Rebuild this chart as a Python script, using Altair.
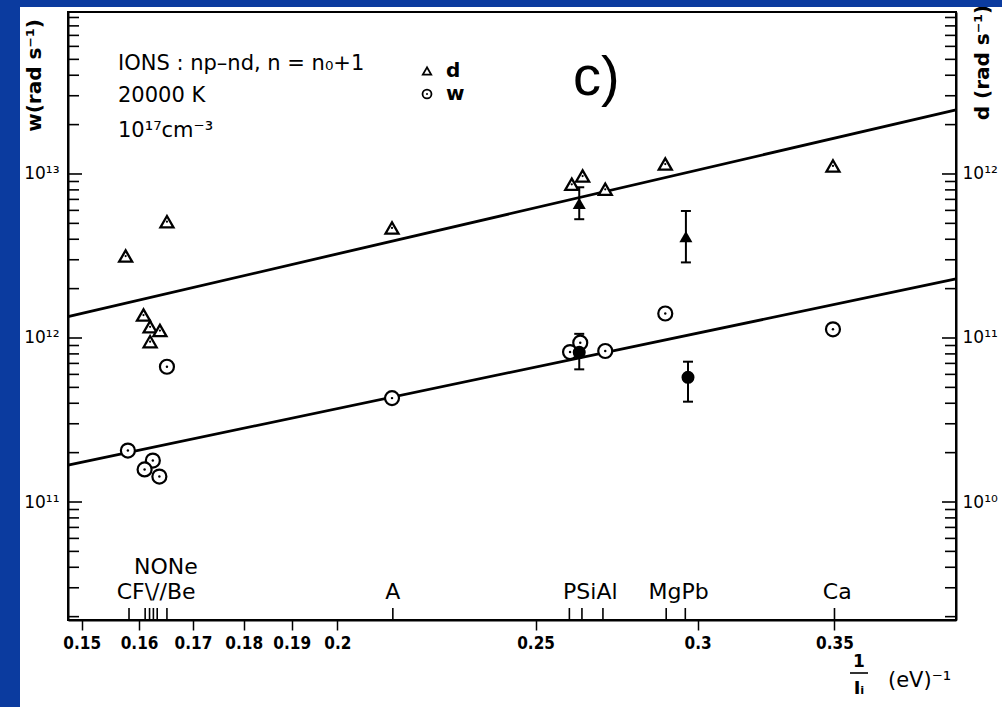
import altair as alt
import pandas as pd

# ---------------- data ----------------
# open triangles: d values (right axis), x = 1/I_i in (eV)^-1
tri_x = [0.1576, 0.1651, 0.1608, 0.1620, 0.1638, 0.1620, 0.2127, 0.2604, 0.2636, 0.2704, 0.2893, 0.3494]
tri_d = [3.16e11, 5.12e11, 1.38e11, 1.17e11, 1.11e11, 9.5e10, 4.69e11, 8.65e11, 9.72e11, 8.07e11, 1.15e12, 1.12e12]

# open circles: w values (left axis)
circ_x = [0.1580, 0.1651, 0.1625, 0.1610, 0.1637, 0.2127, 0.2599, 0.2629, 0.2704, 0.2893, 0.3494]
circ_w = [2.06e11, 6.68e11, 1.79e11, 1.58e11, 1.43e11, 4.30e11, 8.21e11, 9.36e11, 8.33e11, 1.41e12, 1.13e12]

# measured values with error bars (filled symbols)
meas_d_x = [0.2626, 0.2961]
meas_d = [6.62e11, 4.15e11]
meas_d_hi = [8.30e11, 5.95e11]
meas_d_lo = [5.30e11, 2.89e11]

meas_w_x = [0.2626, 0.2968]
meas_w = [8.18e11, 5.76e11]
meas_w_hi = [1.06e12, 7.17e11]
meas_w_lo = [6.44e11, 4.09e11]

# fitted straight lines (log-log)
fit_x = [0.1477, 0.4013]
fit_d = [1.35e11, 2.46e12]
fit_w = [1.68e11, 2.29e12]

# element markers along the 1/I axis
elem_tick_x = [0.1582, 0.1611, 0.1619, 0.1626, 0.1633, 0.1651, 0.2129,
               0.2597, 0.2634, 0.2697, 0.2896, 0.2959, 0.3500]
elem_label = ["CF\\//Be", "NONe", "A", "PSiAl", "MgPb", "Ca"]
elem_label_x = [0.1631, 0.1649, 0.2129, 0.2659, 0.2937, 0.3511]
elem_label_row = ["low", "high", "low", "low", "low", "low"]

# axis ticks
x_ticks = [0.15, 0.16, 0.17, 0.18, 0.19, 0.2, 0.25, 0.3, 0.35]
w_major = [1e11, 1e12, 1e13]
d_major = [1e10, 1e11, 1e12]
w_minor = [k * 10.0 ** e for e in (10, 11, 12, 13) for k in range(2, 10)]

# the d scale sits one decade below the w scale on the same grid
D_TO_W = 10.0

# ---------------- styling ----------------
W, H = 888, 608
FONT = "DejaVu Sans"
NUMFONT = "DejaVu Sans Condensed, DejaVu Sans"
INK = "black"
BLUE = "#0b3b9f"

xs = alt.Scale(type="log", domain=[0.1477, 0.4013], nice=False)
ys = alt.Scale(type="log", domain=[1.908e10, 9.72e13], nice=False)

x_axis = alt.Axis(
    orient="bottom", values=x_ticks, format=".2~f", grid=False,
    domain=True, domainColor=INK, domainWidth=2,
    ticks=True, tickColor=INK, tickWidth=1.5, tickSize=10,
    labelFont=NUMFONT, labelFontWeight="bold", labelFontSize=17, labelColor=INK,
    labelPadding=5, labelFlush=False, labelOverlap=False, title="",
)

w_axis = alt.Axis(
    orient="left", values=w_major,
    labelExpr="datum.value > 5e12 ? '10¹³' : (datum.value > 5e11 ? '10¹²' : '10¹¹')",
    grid=False, ticks=False, tickSize=0, domain=True, domainColor=INK, domainWidth=2,
    labelFont=FONT, labelFontSize=17, labelColor=INK, labelPadding=9, labelOverlap=False,
    title="w(rad s⁻¹)", titleFont=FONT, titleFontSize=20, titleFontWeight="bold",
    titleColor=INK, titleAngle=270, titleX=-34, titleY=63,
    titleAlign="center", titleBaseline="middle",
)

d_axis = alt.Axis(
    orient="right", values=[v * D_TO_W for v in d_major],
    labelExpr="datum.value > 5e12 ? '10¹²' : (datum.value > 5e11 ? '10¹¹' : '10¹⁰')",
    grid=False, ticks=False, tickSize=0, domain=True, domainColor=INK, domainWidth=2,
    labelFont=FONT, labelFontSize=17, labelColor=INK, labelPadding=6, labelOverlap=False,
    title="d (rad s⁻¹)", titleFont=FONT, titleFontSize=20, titleFontWeight="bold",
    titleColor=INK, titleAngle=270, titleX=26, titleY=50,
    titleAlign="center", titleBaseline="middle",
)

one = alt.Data(values=[{}])


def X(axis=None):
    return alt.X("x:Q", scale=xs, axis=axis)


def Y(field, axis=None):
    return alt.Y(f"{field}:Q", scale=ys, axis=axis)


# ---------------- w values (left axis) ----------------
circ_df = pd.DataFrame({"x": circ_x, "w": circ_w})
meas_w_df = pd.DataFrame({"x": meas_w_x, "w": meas_w, "hi": meas_w_hi, "lo": meas_w_lo})
fit_df = pd.DataFrame({"x": fit_x, "w": fit_w, "d": fit_d})

w_line = alt.Chart(fit_df).mark_line(color=INK, strokeWidth=2.8).encode(
    x=X(x_axis), y=Y("w", w_axis))
w_err = alt.Chart(meas_w_df).mark_rule(color=INK, strokeWidth=2).encode(
    x=X(), y=Y("lo"), y2="hi:Q")
w_cap_hi = alt.Chart(meas_w_df).mark_tick(color=INK, orient="horizontal", size=10, thickness=2, opacity=1).encode(
    x=X(), y=Y("hi"))
w_cap_lo = alt.Chart(meas_w_df).mark_tick(color=INK, orient="horizontal", size=10, thickness=2, opacity=1).encode(
    x=X(), y=Y("lo"))
w_open = alt.Chart(circ_df).mark_point(shape="circle", size=196, filled=True, fill="white",
                                       stroke=INK, strokeWidth=2.2, opacity=1).encode(
    x=X(), y=Y("w"))
w_dot = alt.Chart(circ_df).mark_point(shape="circle", size=6, filled=True, color=INK, opacity=1).encode(
    x=X(), y=Y("w"))
w_fill = alt.Chart(meas_w_df).mark_point(shape="circle", size=170, filled=True, color=INK, opacity=1).encode(
    x=X(), y=Y("w"))

# ---------------- d values (right axis) ----------------
tri_df = pd.DataFrame({"x": tri_x, "d": tri_d})
meas_d_df = pd.DataFrame({"x": meas_d_x, "d": meas_d, "hi": meas_d_hi, "lo": meas_d_lo})
to_w = f"datum.d * {D_TO_W}"

d_line = alt.Chart(fit_df).transform_calculate(dy=to_w).mark_line(color=INK, strokeWidth=2.8).encode(
    x=X(), y=Y("dy", d_axis))
d_err = alt.Chart(meas_d_df).transform_calculate(
    lo_y=f"datum.lo * {D_TO_W}", hi_y=f"datum.hi * {D_TO_W}").mark_rule(color=INK, strokeWidth=2).encode(
    x=X(), y=Y("lo_y"), y2="hi_y:Q")
d_cap_hi = alt.Chart(meas_d_df).transform_calculate(hi_y=f"datum.hi * {D_TO_W}").mark_tick(
    color=INK, orient="horizontal", size=10, thickness=2, opacity=1).encode(x=X(), y=Y("hi_y"))
d_cap_lo = alt.Chart(meas_d_df).transform_calculate(lo_y=f"datum.lo * {D_TO_W}").mark_tick(
    color=INK, orient="horizontal", size=10, thickness=2, opacity=1).encode(x=X(), y=Y("lo_y"))
d_open = alt.Chart(tri_df).transform_calculate(dy=to_w).mark_point(
    shape="triangle-up", size=170, filled=True, fill="white", stroke=INK, strokeWidth=2.3, opacity=1).encode(
    x=X(), y=Y("dy"))
d_dot = alt.Chart(tri_df).transform_calculate(dy=to_w).mark_point(
    shape="circle", size=5, filled=True, color=INK, opacity=1).encode(x=X(), y=Y("dy"))
d_fill = alt.Chart(meas_d_df).transform_calculate(dy=to_w).mark_point(
    shape="triangle-up", size=170, filled=True, color=INK, opacity=1).encode(x=X(), y=Y("dy"))

# ---------------- inward tick marks on both vertical axes ----------------
major_df = pd.DataFrame({"v": w_major})
minor_df = pd.DataFrame({"v": w_minor})
tick_l_major = alt.Chart(major_df).mark_rule(color=INK, strokeWidth=1.6).encode(
    x=alt.value(0), x2=alt.value(14), y=Y("v"))
tick_l_minor = alt.Chart(minor_df).mark_rule(color=INK, strokeWidth=1.6).encode(
    x=alt.value(0), x2=alt.value(11), y=Y("v"))
tick_r_major = alt.Chart(major_df).mark_rule(color=INK, strokeWidth=1.6).encode(
    x=alt.value(W), x2=alt.value(W - 14), y=Y("v"))
tick_r_minor = alt.Chart(minor_df).mark_rule(color=INK, strokeWidth=1.6).encode(
    x=alt.value(W), x2=alt.value(W - 11), y=Y("v"))

# ---------------- element markers on the 1/I axis ----------------
elem_ticks = alt.Chart(pd.DataFrame({"x": elem_tick_x})).mark_rule(color=INK, strokeWidth=1.6).encode(
    x=X(), y=alt.value(H - 12), y2=alt.value(H))
elem_df = pd.DataFrame({"x": elem_label_x, "t": elem_label, "row": elem_label_row})
elem_low = alt.Chart(elem_df).transform_filter("datum.row == 'low'").mark_text(
    font=FONT, fontSize=22, color=INK, baseline="middle", align="center").encode(
    x=X(), y=alt.value(580), text="t:N")
elem_high = alt.Chart(elem_df).transform_filter("datum.row == 'high'").mark_text(
    font=FONT, fontSize=22, color=INK, baseline="middle", align="center").encode(
    x=X(), y=alt.value(555), text="t:N")


# ---------------- annotations ----------------
def note(text, x, y, size, font=FONT, weight="normal", align="left", baseline="alphabetic"):
    return alt.Chart(one).mark_text(text=text, font=font, fontSize=size, fontWeight=weight,
                                    color=INK, align=align, baseline=baseline).encode(
        x=alt.value(x), y=alt.value(y))


notes = [
    note("IONS : np–nd, n = n₀+1", 50, 58, 21),
    note("20000 K", 50, 90, 21),
    note("10¹⁷cm⁻³", 50, 125, 21),
    note("d", 378, 65, 20, weight="bold"),
    note("w", 378, 88, 20, weight="bold"),
    note("c)", 505, 83, 56, font="Liberation Sans"),
    note("1", 791, 655, 17, weight="bold", align="center"),
    note("Iᵢ", 791, 682, 18, weight="bold", align="center"),
    note("(eV)⁻¹", 820, 675, 21, align="left"),
]
frac_bar = alt.Chart(one).mark_rule(color=INK, strokeWidth=1.6).encode(
    x=alt.value(782), x2=alt.value(800), y=alt.value(661))
leg_tri = alt.Chart(one).mark_point(shape="triangle-up", size=70, filled=True, fill="white",
                                    stroke=INK, strokeWidth=1.8, opacity=1).encode(
    x=alt.value(359), y=alt.value(59))
leg_circ = alt.Chart(one).mark_point(shape="circle", size=80, filled=True, fill="white",
                                     stroke=INK, strokeWidth=1.8, opacity=1).encode(
    x=alt.value(359), y=alt.value(82))
leg_dot = alt.Chart(one).mark_point(shape="circle", size=4, filled=True, color=INK, opacity=1).encode(
    x=alt.value(359), y=alt.value(82))

# blue page border (left and top)
band_left = alt.Chart(one).mark_rect(color=BLUE).encode(
    x=alt.value(-68), x2=alt.value(-48), y=alt.value(-12), y2=alt.value(H + 87))
band_top = alt.Chart(one).mark_rect(color=BLUE).encode(
    x=alt.value(-68), x2=alt.value(W + 46), y=alt.value(-12), y2=alt.value(-5))

chart = alt.layer(
    w_line, d_line,
    band_left, band_top,
    tick_l_major, tick_l_minor, tick_r_major, tick_r_minor,
    w_err, w_cap_hi, w_cap_lo, w_open, w_dot, w_fill,
    d_err, d_cap_hi, d_cap_lo, d_open, d_dot, d_fill,
    elem_ticks, elem_low, elem_high,
    frac_bar, leg_tri, leg_circ, leg_dot, *notes,
).resolve_axis(x="independent", y="independent").properties(
    width=W, height=H, background="white",
    padding={"left": 68, "top": 12, "right": 46, "bottom": 87},
    autosize=alt.AutoSizeParams(type="none"),
).configure_view(stroke=INK, strokeWidth=2)

chart.save("out.html", embed_options={"renderer": "svg", "actions": False})
